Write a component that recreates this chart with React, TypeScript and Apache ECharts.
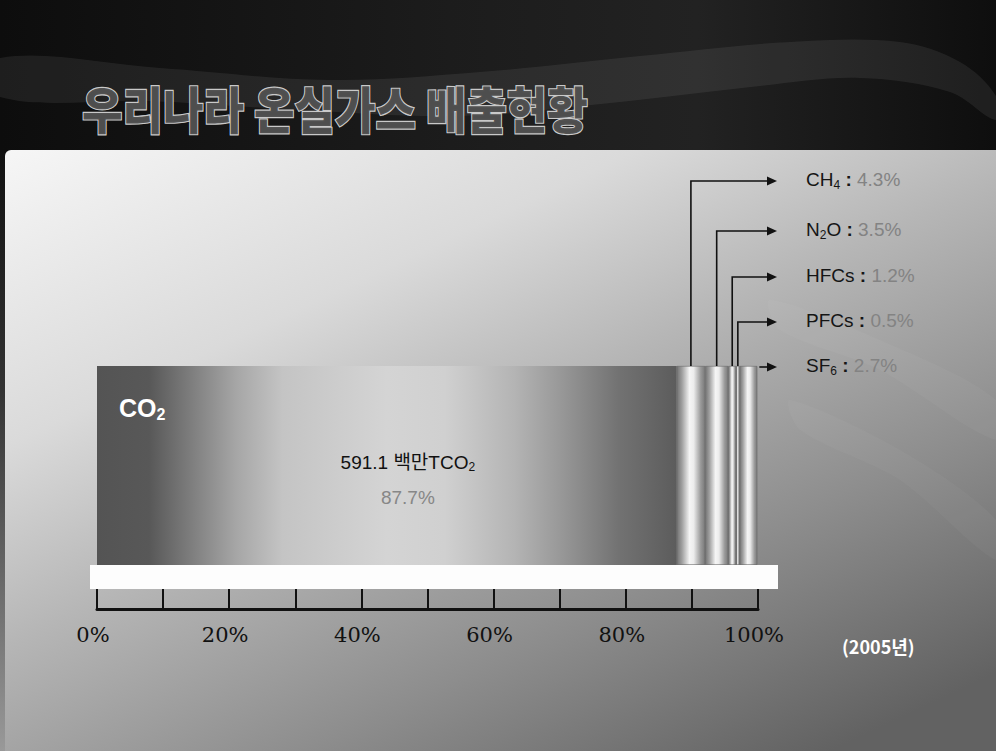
import React, { useEffect, useRef } from 'react';
import * as echarts from 'echarts';

// ---------------- data ----------------
const year = '2005';
const gasKeys = ['CO2', 'CH4', 'N2O', 'HFCs', 'PFCs', 'SF6'];
const gasMain = ['CO', 'CH', 'N', 'HFCs', 'PFCs', 'SF'];
const gasSub = ['2', '4', '2', '', '', '6'];
const gasTail = ['', '', 'O', '', '', ''];
const gasShares = [87.7, 4.3, 3.5, 1.2, 0.5, 2.7];
const co2Amount = 591.1;
const co2Unit = '백만TCO';
const tickStep = 10;
const tickLabelValues = [0, 20, 40, 60, 80, 100];
const titleText = '우리나라 온실가스 배출현황';
const yearLabel = '(2005년)';

// ---------------- layout ----------------
const W = 996;
const H = 751;
const GRID = { left: 97, top: 366, width: 661, height: 199 };
const AXIS_OFFSET = 44;
const ROW_Y = [181, 231, 277, 322, 367];
const ARROW_TIP = 777;
const LABEL_X = 806;
const SANS = "'Liberation Sans', Arial, 'Noto Sans CJK KR', sans-serif";
const NARROW = "'Liberation Sans Narrow', 'Liberation Sans', 'Noto Sans CJK KR', sans-serif";

export default function App() {
  const ref = useRef<HTMLDivElement>(null);

  useEffect(() => {
    const el = ref.current as HTMLDivElement;
    const chart = echarts.init(el, undefined, { renderer: 'svg' });
    const LG = echarts.graphic.LinearGradient;

    const co2Grad = new LG(0, 0, 1, 0, [
      { offset: 0, color: '#545454' },
      { offset: 0.09, color: '#585858' },
      { offset: 0.24, color: '#a6a6a6' },
      { offset: 0.32, color: '#c4c4c4' },
      { offset: 0.5, color: '#d4d4d4' },
      { offset: 0.6, color: '#d0d0d0' },
      { offset: 0.72, color: '#b4b4b4' },
      { offset: 0.8, color: '#989898' },
      { offset: 0.9, color: '#727272' },
      { offset: 1, color: '#5c5c5c' },
    ]);
    const cylGrad = () =>
      new LG(0, 0, 1, 0, [
        { offset: 0, color: '#747474' },
        { offset: 0.18, color: '#a0a0a0' },
        { offset: 0.45, color: '#f5f5f5' },
        { offset: 0.6, color: '#ececec' },
        { offset: 0.85, color: '#9a9a9a' },
        { offset: 1, color: '#7a7a7a' },
      ]);

    const series = gasKeys.map((key, i) => ({
      name: key,
      type: 'bar',
      stack: 'total',
      data: [gasShares[i]],
      barWidth: '100%',
      barCategoryGap: 0,
      silent: true,
      z: 3,
      itemStyle: {
        color: i === 0 ? co2Grad : cylGrad(),
        borderColor: i === 0 ? 'rgba(0,0,0,0)' : 'rgba(100,100,100,0.9)',
        borderWidth: i === 0 ? 0 : 0.6,
      },
      label:
        i === 0
          ? {
              show: true,
              position: 'inside',
              offset: [21, 14],
              formatter: `{a|${co2Amount.toFixed(1)} ${co2Unit}}{s|${gasSub[0]}}\n{b|${gasShares[0]}%}`,
              rich: {
                a: { fontSize: 19, color: '#111', fontFamily: SANS, lineHeight: 35, align: 'center' },
                s: { fontSize: 12, color: '#111', fontFamily: SANS, lineHeight: 35, padding: [10, 0, 0, 0], align: 'center' },
                b: { fontSize: 19, color: '#878787', fontFamily: SANS, lineHeight: 35, align: 'center' },
              },
            }
          : { show: false },
    }));

    chart.setOption({
      animation: false,
      backgroundColor: '#111111',
      grid: { left: GRID.left, top: GRID.top, width: GRID.width, height: GRID.height, containLabel: false },
      xAxis: {
        type: 'value',
        min: 0,
        max: 100,
        interval: tickStep,
        position: 'bottom',
        offset: AXIS_OFFSET,
        axisLine: { show: true, lineStyle: { color: '#111', width: 3 } },
        axisTick: { show: true, inside: true, length: 20, lineStyle: { color: '#111', width: 2 } },
        axisLabel: {
          margin: 15,
          fontFamily: "'DejaVu Serif', serif",
          fontSize: 21,
          color: '#111',
          padding: [0, 8, 0, 0],
          formatter: (v: number) => (tickLabelValues.includes(v) ? `${v}%` : ''),
        },
        splitLine: { show: false },
      },
      yAxis: { type: 'category', data: [year], show: false },
      series,
    });

    // ---- annotations computed through the axes ----
    const xPix = (v: number) => chart.convertToPixel({ xAxisIndex: 0 }, v) as number;
    const yCenter = chart.convertToPixel({ yAxisIndex: 0 }, year) as number;
    const barTop = yCenter - GRID.height / 2;
    const barBottom = yCenter + GRID.height / 2;
    const starts: number[] = [];
    let acc = 0;
    gasShares.forEach((s) => {
      starts.push(acc);
      acc += s;
    });
    const total = acc;

    const bg: any[] = [
      {
        id: 'header',
        type: 'rect',
        z: -20,
        shape: { x: 0, y: 0, width: W, height: 152 },
        style: {
          fill: new LG(0, 0, 1, 0, [
            { offset: 0, color: '#0d0d0d' },
            { offset: 0.45, color: '#1c1c1c' },
            { offset: 0.7, color: '#222222' },
            { offset: 1, color: '#0e0e0e' },
          ]),
        },
      },
      {
        id: 'swoosh1',
        type: 'polygon',
        z: -19,
        shape: {
          smooth: 0.35,
          points: [
            [0, 58], [160, 68], [330, 80], [480, 72], [640, 56], [790, 42], [900, 42], [960, 62], [996, 96],
            [996, 120], [950, 92], [860, 78], [760, 86], [620, 102], [460, 116], [300, 110], [150, 101], [0, 97],
          ],
        },
        style: { fill: 'rgba(255,255,255,0.07)' },
      },
      {
        id: 'leftstrip',
        type: 'rect',
        z: -20,
        shape: { x: 0, y: 150, width: 6, height: H - 150 },
        style: {
          fill: new LG(0, 0, 0, 1, [
            { offset: 0, color: '#111' },
            { offset: 0.4, color: '#333' },
            { offset: 1, color: '#999' },
          ]),
        },
      },
      {
        id: 'panel',
        type: 'rect',
        z: -18,
        shape: { x: 5, y: 150, width: W - 5, height: H - 150, r: [6, 0, 0, 0] },
        style: {
          fill: new LG(5, 150, 385, 960, [
            { offset: 0, color: '#f6f6f6' },
            { offset: 0.3, color: '#dadada' },
            { offset: 0.5, color: '#b6b6b6' },
            { offset: 0.75, color: '#8d8d8d' },
            { offset: 1, color: '#626262' },
          ], true),
        },
      },
      {
        id: 'streak1',
        type: 'polygon',
        z: -17,
        shape: { smooth: 0.3, points: [[770, 300], [880, 340], [996, 400], [996, 440], [880, 370], [780, 330]] },
        style: { fill: 'rgba(255,255,255,0.035)' },
      },
      {
        id: 'streak2',
        type: 'polygon',
        z: -17,
        shape: { smooth: 0.3, points: [[790, 400], [900, 450], [996, 520], [996, 560], [900, 480], [800, 430]] },
        style: { fill: 'rgba(255,255,255,0.03)' },
      },
      {
        id: 'title',
        type: 'text',
        z: 20,
        x: 82,
        y: 108,
        scaleY: 1.13,
        style: {
          text: titleText,
          x: 0,
          y: 0,
          fontSize: 44,
          fontWeight: 900,
          fontFamily: "'Noto Sans CJK KR', sans-serif",
          fill: '#505050',
          stroke: '#cfcfcf',
          lineWidth: 2,
          opacity: 0.98,
          verticalAlign: 'middle',
          align: 'left',
        },
      },
    ];

    const ann: any[] = [];
    // white base plate under the bar
    ann.push({
      id: 'plate',
      type: 'rect',
      z: 10,
      shape: { x: xPix(0) - 7, y: barBottom, width: xPix(100) - xPix(0) + 27, height: 24 },
      style: { fill: '#fdfdfd' },
    });
    // CO2 label inside the bar
    ann.push({
      id: 'co2name',
      type: 'text',
      z: 20,
      x: xPix(0) + 22,
      y: barTop + 42,
      style: {
        text: `{m|${gasMain[0]}}{s|${gasSub[0]}}`,
        verticalAlign: 'middle',
        rich: {
          m: { fontSize: 25, fontWeight: 'bold', fontFamily: NARROW, fill: '#ffffff' },
          s: { fontSize: 16, fontWeight: 'bold', fontFamily: NARROW, fill: '#ffffff', padding: [12, 0, 0, 0] },
        },
      },
    });

    for (let i = 1; i < gasKeys.length; i++) {
      const k = i - 1;
      const ry = ROW_Y[k];
      const isLast = i === gasKeys.length - 1;
      const mid = xPix(starts[i] + gasShares[i] / 2);
      const pts = isLast
        ? [[xPix(total) + 2, ry], [ARROW_TIP - 8, ry]]
        : [[mid, barTop], [mid, ry], [ARROW_TIP - 8, ry]];
      ann.push({
        id: 'conn' + i,
        type: 'polyline',
        z: 20,
        shape: { points: pts },
        style: { stroke: '#111', lineWidth: 1.6, fill: null },
      });
      ann.push({
        id: 'head' + i,
        type: 'polygon',
        z: 20,
        shape: { points: [[ARROW_TIP - 10, ry - 4.5], [ARROW_TIP, ry], [ARROW_TIP - 10, ry + 4.5]] },
        style: { fill: '#111' },
      });
      const sub = gasSub[i] ? `{s|${gasSub[i]}}` : '';
      const tail = gasTail[i] ? `{n|${gasTail[i]}}` : '';
      ann.push({
        id: 'lab' + i,
        type: 'text',
        z: 20,
        x: LABEL_X,
        y: ry - 2,
        style: {
          text: `{n|${gasMain[i]}}${sub}${tail}{c| : }{v|${gasShares[i]}%}`,
          verticalAlign: 'middle',
          rich: {
            n: { fontSize: 19, fontFamily: SANS, fill: '#151515' },
            s: { fontSize: 12, fontFamily: SANS, fill: '#151515', padding: [11, 0, 0, 0] },
            c: { fontSize: 19, fontFamily: SANS, fontWeight: 'bold', fill: '#151515' },
            v: { fontSize: 19, fontFamily: SANS, fill: '#838383' },
          },
        },
      });
    }

    ann.push({
      id: 'year',
      type: 'text',
      z: 20,
      x: 842,
      y: 646,
      style: {
        text: yearLabel,
        fontSize: 18,
        fontWeight: 'bold',
        fontFamily: "'Liberation Sans Narrow', 'Noto Sans CJK KR', sans-serif",
        fill: '#ffffff',
        verticalAlign: 'middle',
        align: 'left',
      },
    });

    chart.setOption({ graphic: [...bg, ...ann] });

    return () => {
      chart.dispose();
    };
  }, []);

  return <div ref={ref} style={{ position: 'fixed', left: 0, top: 0, width: W, height: H }} />;
}
